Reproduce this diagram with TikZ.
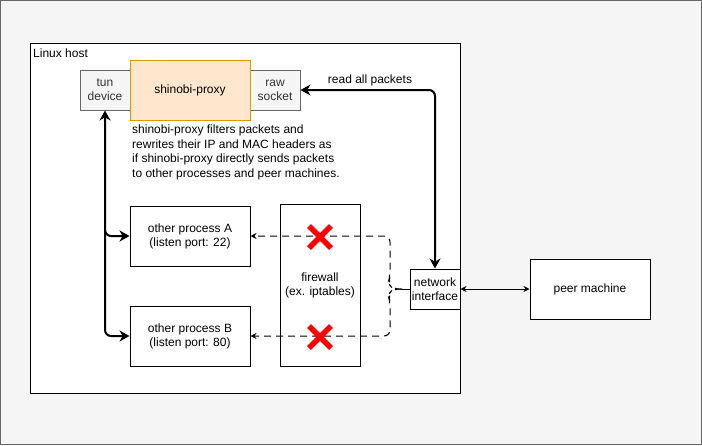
\documentclass[tikz,border=0pt]{standalone}
\usepackage{fontspec}
\setmainfont{Liberation Sans}
\usetikzlibrary{arrows.meta}
\definecolor{bggray}{HTML}{F5F5F5}
\definecolor{edgegray}{HTML}{666666}
\definecolor{txtgray}{HTML}{333333}
\definecolor{orfill}{HTML}{FFE6CC}
\definecolor{ordraw}{HTML}{D79B00}
\tikzset{
  box/.style={draw=black, fill=white, line width=1pt, inner sep=0pt, align=center, font=\fontsize{12}{14}\selectfont},
  graybox/.style={draw=edgegray, fill=bggray, text=txtgray, line width=1pt, inner sep=0pt, align=center, font=\fontsize{12}{14}\selectfont},
  lbl/.style={inner sep=0pt, font=\fontsize{12}{14.5}\selectfont},
  thickarrow/.style={line width=2pt, rounded corners=6pt},
  bigtip/.tip={Stealth[length=10pt,width=11pt]},
  dasharrow/.style={line width=1pt, dash pattern=on 7pt off 5pt, rounded corners=6pt, -{Stealth[length=6pt,width=6pt]}},
  xmark/.style={draw=red, line width=5.5pt},
}
\begin{document}
\begin{tikzpicture}[x=1pt, y=-1pt]
\useasboundingbox (0,0) rectangle (702,445);
\draw[draw=edgegray, fill=bggray, line width=1pt] (0.5,0.5) rectangle (701.5,444.5);
% Linux host
\draw[black, fill=white, line width=1pt] (30.5,43.5) rectangle (460.5,393.5);
\node[lbl, anchor=north west] (hostlabel) at (33,49) {Linux host};
% top boxes
\node[graybox, minimum width=50pt, minimum height=40pt] (tun) at (105,90) {tun\\device};
\node[graybox, minimum width=50pt, minimum height=40pt] (raw) at (275,90) {raw\\socket};
\node[box, draw=ordraw, fill=orfill, minimum width=120pt, minimum height=60pt] (proxy) at (190,90) {shinobi-proxy};
\node[lbl, anchor=north west, align=left] (desc) at (132,125) {shinobi-proxy filters packets and\\rewrites their IP and MAC headers as\\if shinobi-proxy directly sends packets\\to other processes and peer machines.};
% processes
\node[box, minimum width=120pt, minimum height=60pt] (pa) at (190,236) {other process A\\(listen port: 22)};
\node[box, minimum width=120pt, minimum height=60pt] (pb) at (190,336) {other process B\\(listen port: 80)};
\node[box, minimum width=80pt, minimum height=162pt] (fw) at (320,285) {firewall\\(ex. iptables)};
\node[box, minimum width=50pt, minimum height=40pt] (ni) at (435,289) {network\\interface};
\node[box, minimum width=120pt, minimum height=60pt] (peer) at (590,289) {peer machine};
% thick arrows from tun
\draw[thickarrow, bigtip-bigtip] (tun.south) -- (105,236) -- (pa.west);
\draw[thickarrow, -bigtip] (105,230) -- (105,336) -- (pb.west);
% read all packets
\draw[thickarrow, bigtip-bigtip] (raw.east) -- (435,90) -- (ni.north);
\node[lbl] (readlbl) at (370,80) {read all packets};
% peer link
\draw[line width=1pt, {Stealth[length=6pt,width=6pt]}-{Stealth[length=6pt,width=6pt]}] (ni.east) -- (peer.west);
% dashed paths
\coordinate (tip) at (402,289);
\draw[line width=1pt] (ni.west) -- (tip);
\draw[dasharrow] (tip) -- (393,289) -- (388,283) -- (390,277) -- (390,236) -- (pa.east);
\draw[dasharrow] (tip) -- (393,289) -- (388,295) -- (390,301) -- (390,336) -- (pb.east);
% red crosses
\foreach \cy/\nm in {237/xa, 337/xb}{
  \coordinate (\nm) at (320,\cy);
  \draw[xmark] ([shift={(-11,-11)}]\nm) -- ([shift={(11,11)}]\nm);
  \draw[xmark] ([shift={(-11,11)}]\nm) -- ([shift={(11,-11)}]\nm);
}
\end{tikzpicture}
\end{document}
